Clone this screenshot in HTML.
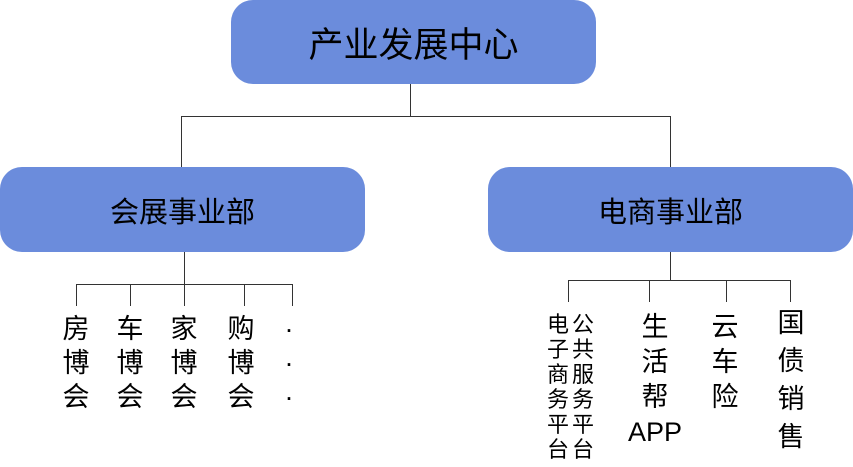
<!DOCTYPE html>
<html><head><meta charset="utf-8"><style>
body{margin:0;width:853px;height:467px;background:#fff;position:relative;overflow:hidden;font-family:"Liberation Sans","Noto Sans CJK SC",sans-serif;color:#000}
.box{position:absolute;background:#6b8cdc;border-radius:22px;display:flex;align-items:center;justify-content:center}
.l{position:absolute;background:#333}
.c{position:absolute;text-align:center;transform:translateX(-50%);white-space:nowrap}
</style></head><body>
<div class="box" style="left:231px;top:0;width:365px;height:84px;font-size:35px">产业发展中心</div>
<div class="box" style="left:0;top:167px;width:365px;height:85px;font-size:29px">会展事业部</div>
<div class="box" style="left:488px;top:167px;width:365px;height:85px;font-size:29px">电商事业部</div>

<div class="l" style="left:410px;top:84px;width:1px;height:33px"></div>
<div class="l" style="left:181px;top:116px;width:490px;height:1px"></div>
<div class="l" style="left:181px;top:116px;width:1px;height:51px"></div>
<div class="l" style="left:670px;top:116px;width:1px;height:51px"></div>

<div class="l" style="left:184px;top:252px;width:1px;height:33px"></div>
<div class="l" style="left:76px;top:284px;width:217px;height:1px"></div>
<div class="l" style="left:76px;top:284px;width:1px;height:22px"></div>
<div class="l" style="left:130px;top:284px;width:1px;height:22px"></div>
<div class="l" style="left:184px;top:284px;width:1px;height:22px"></div>
<div class="l" style="left:244px;top:284px;width:1px;height:22px"></div>
<div class="l" style="left:292px;top:284px;width:1px;height:22px"></div>

<div class="l" style="left:670px;top:252px;width:1px;height:29px"></div>
<div class="l" style="left:568px;top:280px;width:223px;height:1px"></div>
<div class="l" style="left:568px;top:280px;width:1px;height:22px"></div>
<div class="l" style="left:649px;top:280px;width:1px;height:22px"></div>
<div class="l" style="left:726px;top:280px;width:1px;height:22px"></div>
<div class="l" style="left:790px;top:280px;width:1px;height:22px"></div>

<div class="c" style="left:76px;top:312px;font-size:27px;line-height:34px">房<br>博<br>会</div>
<div class="c" style="left:130px;top:312px;font-size:27px;line-height:34px">车<br>博<br>会</div>
<div class="c" style="left:184px;top:312px;font-size:27px;line-height:34px">家<br>博<br>会</div>
<div class="c" style="left:241px;top:312px;font-size:27px;line-height:34px">购<br>博<br>会</div>
<div class="c" style="left:289px;top:312px;font-size:27px;line-height:34px">·<br>·<br>·</div>

<div class="c" style="left:558px;top:312px;font-size:22px;line-height:25px">电<br>子<br>商<br>务<br>平<br>台</div>
<div class="c" style="left:583px;top:312px;font-size:22px;line-height:25px">公<br>共<br>服<br>务<br>平<br>台</div>
<div class="c" style="left:655px;top:310px;font-size:27px;line-height:35px">生<br>活<br>帮<br>APP</div>
<div class="c" style="left:725px;top:310px;font-size:27px;line-height:35px">云<br>车<br>险</div>
<div class="c" style="left:791px;top:304px;font-size:27px;line-height:38px">国<br>债<br>销<br>售</div>
</body></html>
